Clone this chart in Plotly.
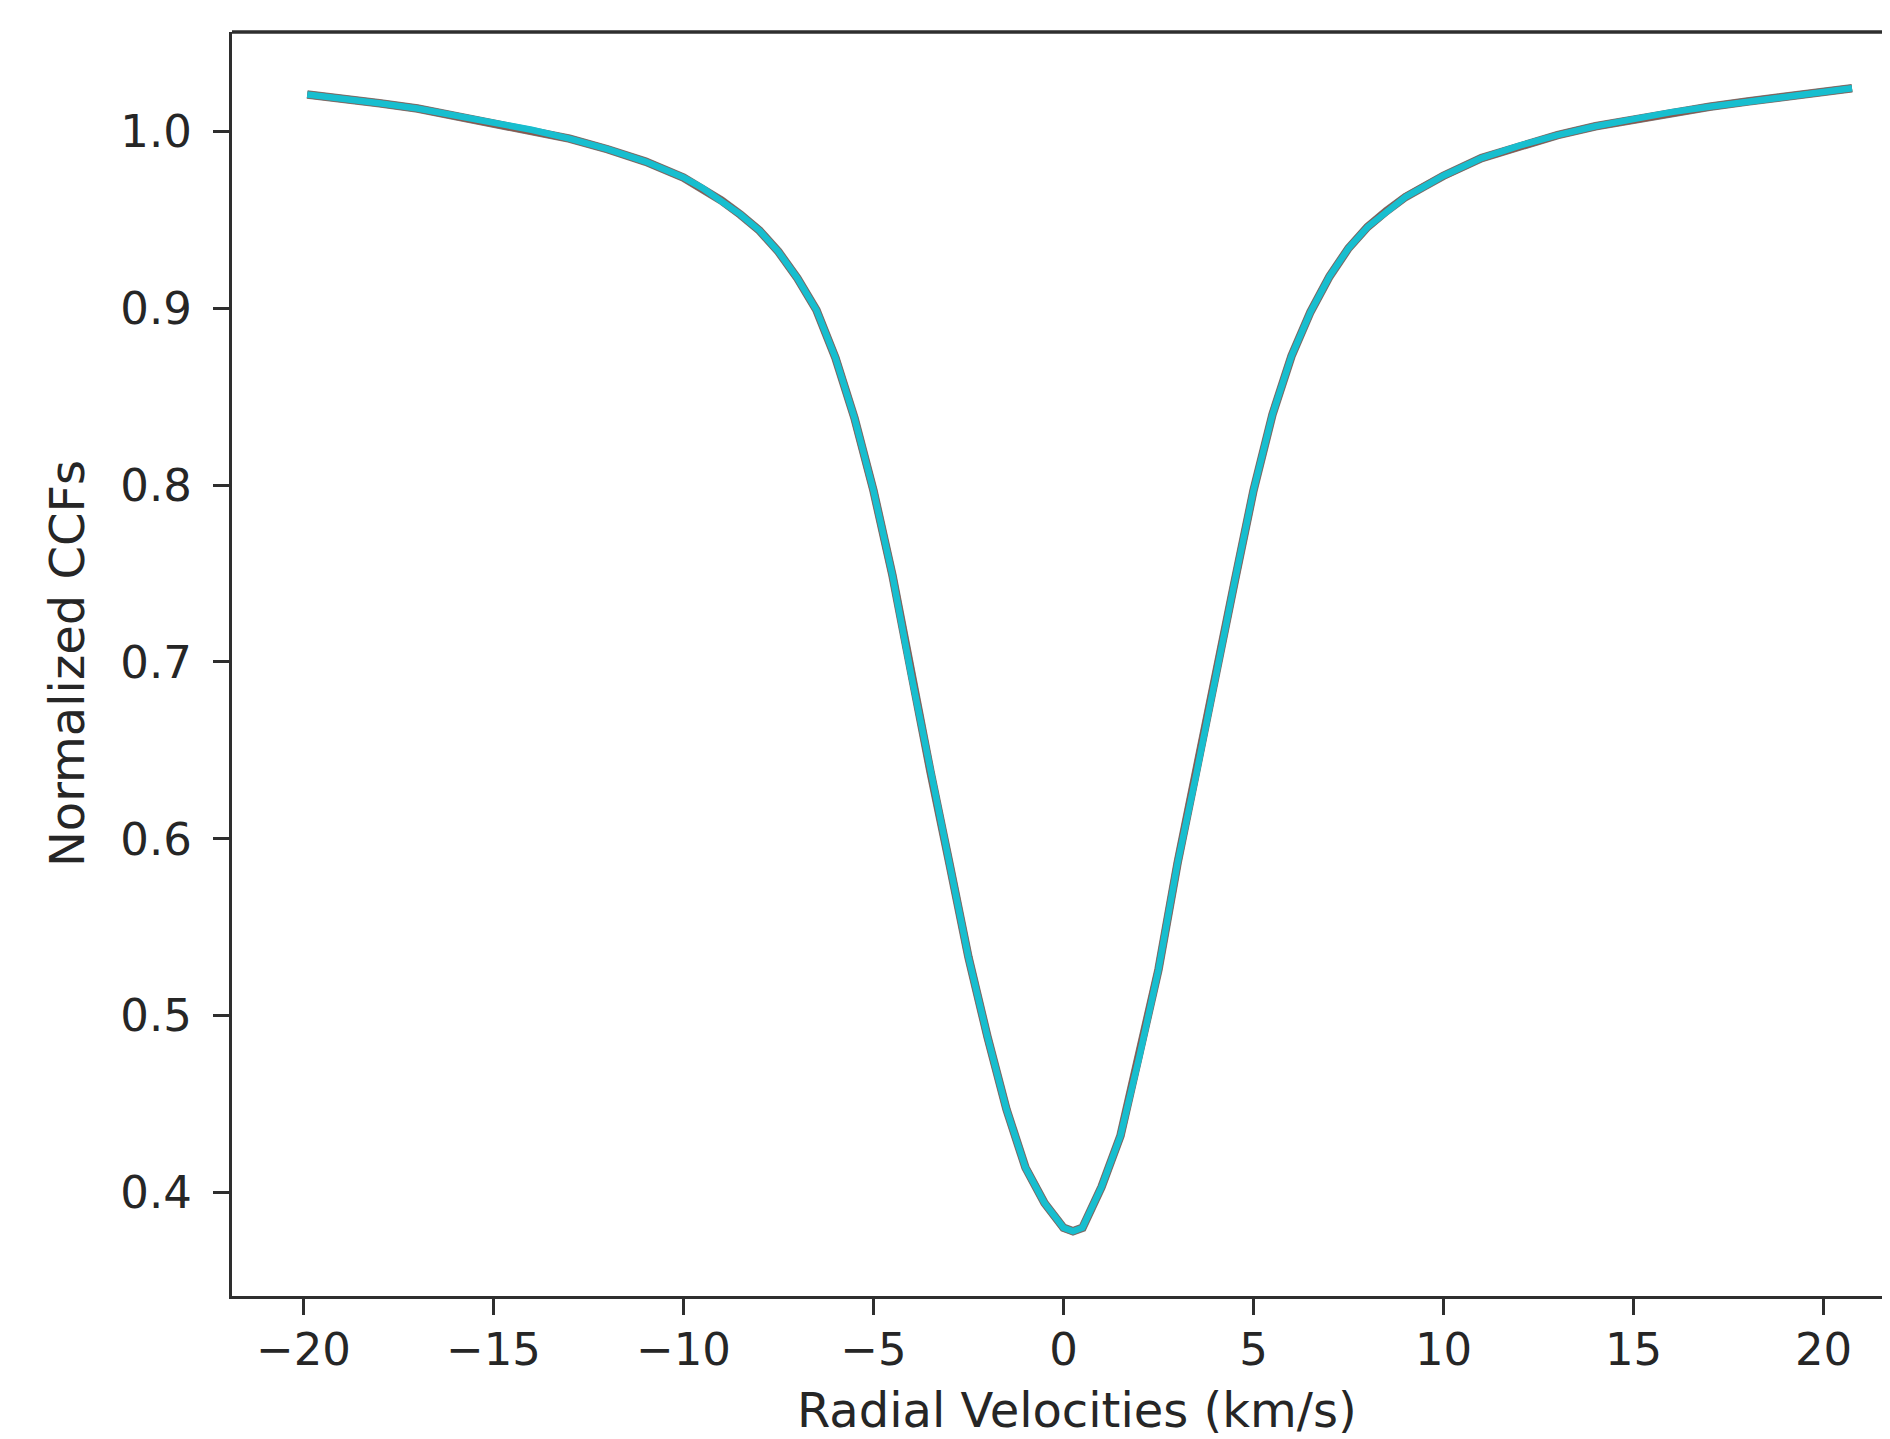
import plotly.graph_objects as go

# Radial velocity grid (km/s) and normalized CCF values
rv = [-19.9, -19, -18, -17, -16, -15, -14, -13, -12, -11, -10, -9.5, -9, -8.5, -8,
      -7.5, -7, -6.5, -6, -5.5, -5, -4.5, -4, -3.5, -3, -2.5, -2, -1.5, -1, -0.5,
      0, 0.25, 0.5, 1.0, 1.5, 2.0, 2.5, 3.0, 3.5, 4.0, 4.5, 5.0, 5.5, 6.0, 6.5,
      7.0, 7.5, 8.0, 8.5, 9, 9.5, 10, 11, 12, 13, 14, 15, 16, 17, 18, 19, 20, 20.75]
ccf = [1.021, 1.019, 1.016, 1.013, 1.009, 1.005, 1.001, 0.996, 0.990, 0.983, 0.974,
       0.968, 0.961, 0.953, 0.944, 0.932, 0.917, 0.899, 0.872, 0.838, 0.797, 0.749,
       0.692, 0.638, 0.586, 0.533, 0.488, 0.447, 0.414, 0.394,
       0.380, 0.378, 0.380, 0.403, 0.432, 0.477, 0.526, 0.586, 0.637, 0.692, 0.745,
       0.797, 0.840, 0.873, 0.898, 0.918, 0.934, 0.946, 0.955, 0.963, 0.969, 0.975,
       0.985, 0.992, 0.998, 1.003, 1.007, 1.011, 1.014, 1.017, 1.020, 1.023, 1.0245]

x_ticks = [-20, -15, -10, -5, 0, 5, 10, 15, 20]
x_tick_text = ["\u221220", "\u221215", "\u221210", "\u22125", "0", "5", "10", "15", "20"]
y_ticks = [0.4, 0.5, 0.6, 0.7, 0.8, 0.9, 1.0]
y_tick_text = ["0.4", "0.5", "0.6", "0.7", "0.8", "0.9", "1.0"]

series_colors = ["#7f7f7f", "#8c564b", "#17becf"]
series_widths = [8.5, 7.5, 6.5]

FONT = "DejaVu Sans"
TXT = "#262626"
AX = "#2e2e2e"
TICK_SIZE = 45
TITLE_SIZE = 48

fig = go.Figure()
for c, w in zip(series_colors, series_widths):
    fig.add_trace(go.Scatter(x=rv, y=ccf, mode="lines",
                             line=dict(color=c, width=w), showlegend=False,
                             hoverinfo="skip"))

fig.update_layout(
    width=1890, height=1439,
    margin=dict(l=224, r=0, t=24, b=151),
    paper_bgcolor="white", plot_bgcolor="white",
    font=dict(family=FONT, size=TICK_SIZE, color=TXT),
    showlegend=False,
)
fig.update_xaxes(range=[-21.88, 21.96], showgrid=False, zeroline=False,
                 showline=True, linecolor=AX, linewidth=3.3,
                 ticks="outside", ticklen=16, tickwidth=3, tickcolor=AX,
                 ticklabelstandoff=-4,
                 tickvals=x_ticks, ticktext=x_tick_text,
                 tickfont=dict(family=FONT, size=TICK_SIZE, color=TXT))
fig.update_yaxes(range=[0.3414, 1.0563], showgrid=False, zeroline=False,
                 showline=True, linecolor=AX, linewidth=3.3,
                 ticks="outside", ticklen=16, tickwidth=3, tickcolor=AX,
                 ticklabelstandoff=12,
                 tickvals=y_ticks, ticktext=y_tick_text,
                 tickfont=dict(family=FONT, size=TICK_SIZE, color=TXT))

# top spine (right side is cut off in the reference)
fig.add_shape(type="line", xref="paper", yref="paper", x0=0, x1=1, y0=1, y1=1,
              line=dict(color=AX, width=3.3))

fig.add_annotation(text="Radial Velocities (km/s)", xref="paper", yref="paper",
                   x=0.5072, y=-0.0905, showarrow=False, xanchor="center",
                   yanchor="middle", font=dict(family=FONT, size=TITLE_SIZE, color=TXT))
fig.add_annotation(text="Normalized CCFs", xref="paper", yref="paper",
                   x=-0.099, y=0.5, showarrow=False, textangle=-90,
                   xanchor="center", yanchor="middle",
                   font=dict(family=FONT, size=TITLE_SIZE, color=TXT))

fig.write_html("out.html")
